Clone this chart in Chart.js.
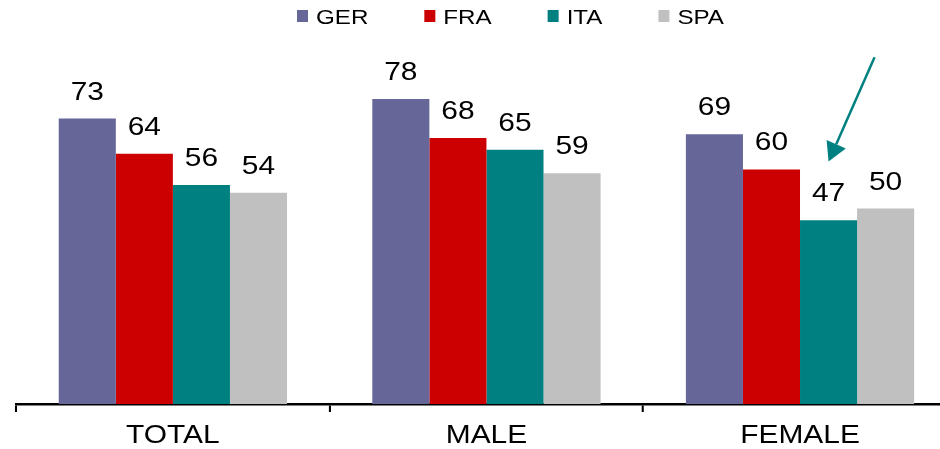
<!DOCTYPE html>
<html>
<head>
<meta charset="utf-8">
<script src="https://cdn.jsdelivr.net/npm/chart.js@4/dist/chart.umd.min.js"></script>
<style>
  html, body { margin: 0; padding: 0; background: #ffffff; }
  body { width: 940px; height: 449px; overflow: hidden; }
  #wrap { position: relative; width: 940px; height: 449px; overflow: hidden; }
  canvas { display: block; }
</style>
</head>
<body>
<div id="wrap"><canvas id="chart" width="832" height="449"></canvas></div>
<script>
// Categories and series
const categories = ['TOTAL', 'MALE', 'FEMALE'];
const seriesNames = ['GER', 'FRA', 'ITA', 'SPA'];
const gerValues = [73, 78, 69];
const fraValues = [64, 68, 60];
const itaValues = [56, 65, 47];
const spaValues = [54, 59, 50];

const seriesColors = ['#666699', '#CC0000', '#008080', '#C0C0C0'];
const FONT = '"Liberation Sans", Arial, Helvetica, sans-serif';
const STRETCH = 1.15; // horizontal stretch of the whole drawing

// Value labels above each bar
const valueLabels = {
  id: 'valueLabels',
  afterDatasetsDraw(chart) {
    const ctx = chart.ctx;
    ctx.save();
    ctx.fillStyle = '#000000';
    ctx.font = '26px ' + FONT;
    ctx.textAlign = 'center';
    ctx.textBaseline = 'alphabetic';
    chart.data.datasets.forEach((ds, i) => {
      chart.getDatasetMeta(i).data.forEach((bar, j) => {
        ctx.fillText(String(ds.data[j]), bar.x, bar.y - 19);
      });
    });
    ctx.restore();
  }
};

// Legend row across the top
const topLegend = {
  id: 'topLegend',
  afterDraw(chart) {
    const ctx = chart.ctx;
    ctx.save();
    ctx.font = '21px ' + FONT;
    ctx.textBaseline = 'alphabetic';
    ctx.textAlign = 'left';
    let x = 297 / STRETCH;
    const box = 11 / STRETCH;
    const gapText = 8 / STRETCH;
    const gapItem = 56 / STRETCH;
    chart.data.datasets.forEach((ds) => {
      ctx.fillStyle = ds.backgroundColor;
      ctx.fillRect(x, 10, box, 12);
      ctx.fillStyle = '#000000';
      ctx.fillText(ds.label, x + box + gapText, 24);
      x += box + gapText + ctx.measureText(ds.label).width + gapItem;
    });
    ctx.restore();
  }
};

// Pointer arrow toward the FEMALE / ITA bar
const pointerArrow = {
  id: 'pointerArrow',
  afterDraw(chart) {
    const dsIndex = seriesNames.indexOf('ITA');
    const catIndex = categories.indexOf('FEMALE');
    const bar = chart.getDatasetMeta(dsIndex).data[catIndex];
    const yScale = chart.scales.y;
    const ctx = chart.ctx;
    const tipX = bar.x * STRETCH;
    const tipY = yScale.getPixelForValue(62);
    const tailX = tipX + 46;
    const tailY = yScale.getPixelForValue(88.7);
    const dx = tipX - tailX, dy = tipY - tailY;
    const len = Math.hypot(dx, dy);
    const ux = dx / len, uy = dy / len;
    const headLen = 19, halfW = 10.5;
    const baseX = tipX - ux * headLen, baseY = tipY - uy * headLen;
    ctx.save();
    ctx.setTransform(1, 0, 0, 1, 0, 0);
    ctx.strokeStyle = '#008080';
    ctx.fillStyle = '#008080';
    ctx.lineWidth = 2.5;
    ctx.beginPath();
    ctx.moveTo(tailX, tailY);
    ctx.lineTo(baseX, baseY);
    ctx.stroke();
    ctx.beginPath();
    ctx.moveTo(tipX, tipY);
    ctx.lineTo(baseX - uy * halfW, baseY + ux * halfW);
    ctx.lineTo(baseX + uy * halfW, baseY - ux * halfW);
    ctx.closePath();
    ctx.fill();
    ctx.restore();
  }
};

const valueArrays = [gerValues, fraValues, itaValues, spaValues];

const canvas = document.getElementById('chart');
const chart = new Chart(canvas, {
  type: 'bar',
  data: {
    labels: categories,
    datasets: seriesNames.map((name, i) => ({
      label: name,
      data: valueArrays[i],
      backgroundColor: seriesColors[i],
      borderWidth: 0,
      barPercentage: 1.0,
      categoryPercentage: 0.728
    }))
  },
  options: {
    responsive: false,
    animation: false,
    layout: { padding: { left: 14, right: 0, top: 13, bottom: 0 } },
    plugins: {
      legend: { display: false },
      tooltip: { enabled: false }
    },
    scales: {
      x: {
        offset: true,
        border: { display: true, color: '#000000', width: 2.5 },
        grid: {
          display: true,
          drawOnChartArea: false,
          drawTicks: true,
          tickLength: 8,
          color: '#000000',
          lineWidth: 1.8,
          offset: true
        },
        ticks: {
          color: '#000000',
          font: { family: FONT, size: 26 },
          padding: 8,
          maxRotation: 0,
          autoSkip: false
        },
        afterFit(scale) { scale.height = 45; }
      },
      y: {
        display: false,
        min: 0,
        max: 100
      }
    }
  },
  plugins: [valueLabels, topLegend, pointerArrow]
});

// Widen the bitmap and redraw the chart stretched horizontally
canvas.width = Math.round(832 * STRETCH);
canvas.style.width = canvas.width + 'px';
canvas.style.height = '449px';
chart.ctx.setTransform(STRETCH, 0, 0, 1, 0, 0);
chart.draw();
</script>
</body>
</html>
